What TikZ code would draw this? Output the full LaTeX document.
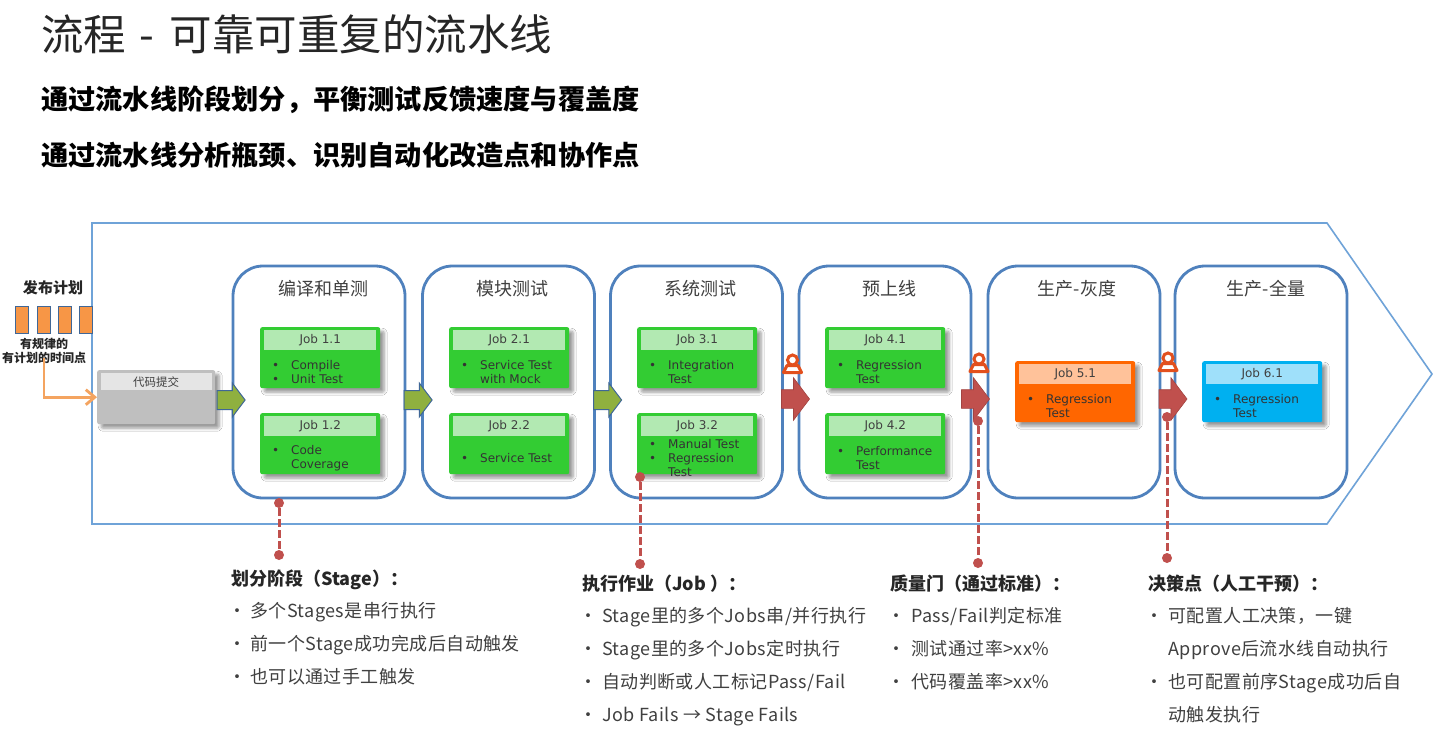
\documentclass[tikz,border=0pt]{standalone}
\usepackage{fontspec}
\setmainfont{Noto Sans CJK SC}
\newfontfamily\jobfont{DejaVu Sans}
\newfontfamily\notefont[LetterSpace=2.5]{Noto Sans CJK SC}
\usetikzlibrary{arrows.meta, positioning, shapes.arrows, shadows.blur}

\definecolor{StageBlue}{HTML}{4F81BD}
\definecolor{FlowBlue}{HTML}{6FA3D8}
\definecolor{JobGreen}{HTML}{33CC33}
\definecolor{JobGreenHead}{HTML}{B2E9B2}
\definecolor{JobOrange}{HTML}{FF6600}
\definecolor{JobOrangeHead}{HTML}{FFC29A}
\definecolor{JobCyan}{HTML}{00B0F0}
\definecolor{JobCyanHead}{HTML}{9FE0FA}
\definecolor{GateRed}{HTML}{C0504D}
\definecolor{PassGreen}{HTML}{8FB03F}
\definecolor{PlanOrange}{HTML}{F79646}
\definecolor{LineOrange}{HTML}{F4A460}
\definecolor{IconRed}{HTML}{E2501E}
\definecolor{TextGrey}{HTML}{404040}

\tikzset{
    stagebox/.style={draw=StageBlue, line width=2.8pt, rounded corners=30pt, minimum width=172pt, minimum height=232pt},
    stagetitle/.style={text=TextGrey, font=\fontsize{18}{22}\selectfont},
    jobbox/.style={rounded corners=2pt, minimum width=120pt, minimum height=61pt, anchor=north west,
        blur shadow={shadow xshift=4pt, shadow yshift=-4pt, shadow blur steps=6, shadow blur radius=3pt}},
    jobhead/.style={minimum width=112pt, minimum height=20pt, inner sep=0pt, text=TextGrey, font=\jobfont\fontsize{12}{14}\selectfont},
    jobtext/.style={anchor=west, align=left, inner sep=0pt, text=black!80, font=\jobfont\fontsize{12}{14}\selectfont},
    passarrow/.style={single arrow, single arrow tip angle=106, inner sep=9pt, single arrow head extend=7.5pt, minimum height=28pt, fill=PassGreen, draw=StageBlue!80!black, line width=1pt},
    gatearrow/.style={single arrow, single arrow tip angle=106, inner sep=9pt, single arrow head extend=12pt, minimum height=28pt, fill=GateRed, draw=GateRed!85!black, line width=.6pt},
    plandot/.style={circle, fill=GateRed, inner sep=0pt, minimum size=10pt},
    planline/.style={draw=GateRed, line width=3pt, dash pattern=on 8pt off 3pt},
    plantick/.style={draw=StageBlue!80!black, fill=PlanOrange, line width=1pt, minimum width=13pt, minimum height=27pt, inner sep=0pt},
    noteitems/.style={anchor=north west, align=left, inner sep=0pt, text=TextGrey, font=\notefont\fontsize{18}{33}\selectfont},
    notehead/.style={anchor=west, inner sep=0pt, text=black!85, font=\fontsize{18}{20}\selectfont\bfseries},
    person/.pic={
        \draw [IconRed, fill=white, line width=3pt, line join=round] (-9,8.5) -- (9,8.5) -- (5.5,1.5) -- (-5.5,1.5) -- cycle;
        \draw [IconRed, fill=white, line width=3pt] (0,-4) circle (5pt);
    }
}

% name, left, top, fill, head fill, title, items
\newcommand{\jobnode}[7]{
    \node [jobbox, fill=#4] (#1) at (#2,#3) {};
    \node [jobhead, fill=#5, below=3pt of #1.north] (#1head) {#6};
    \node [jobtext, right=12pt of #1.north west, yshift=-45pt] (#1text) {#7};
}
\newcommand{\jb}{\makebox[19pt][l]{•}}
\newcommand{\jn}{\makebox[19pt][l]{}}
\newcommand{\nb}[1]{\makebox[#1pt][l]{\hspace{-3pt}•}}
\newcommand{\nn}[1]{\makebox[#1pt][l]{}}

\begin{document}
\begin{tikzpicture}[x=1pt, y=-1pt]
    \useasboundingbox [fill=white] (0,0) rectangle (1439,755);

    \node [anchor=west, inner sep=0pt, text=black!85, font=\fontsize{42.5}{50}\selectfont] (pagetitle) at (41,34) {流程 \hspace{4pt}-\hspace{6pt} 可靠可重复的流水线};
    \node [anchor=west, inner sep=0pt, text=black, font=\fontsize{27.2}{32}\selectfont\bfseries] (subone) at (41,100) {通过流水线阶段划分，平衡测试反馈速度与覆盖度};
    \node [anchor=west, inner sep=0pt, text=black, font=\fontsize{27.2}{32}\selectfont\bfseries] (subtwo) at (41,155) {通过流水线分析瓶颈、识别自动化改造点和协作点};

    \draw [FlowBlue, line width=1.6pt] (92,223) -- (1327,223) -- (1432,374) -- (1327,524) -- (92,524) -- cycle;

    \node [inner sep=0pt, text=black!85, font=\fontsize{15}{18}\selectfont\bfseries] (plan) at (53,288) {发布计划};
    \node [plantick] (tickone) at (21.5,319.5) {};
    \node [plantick] (ticktwo) at (43.5,319.5) {};
    \node [plantick] (tickthree) at (64.5,319.5) {};
    \node [plantick] (tickfour) at (85.5,319.5) {};
    \node [inner sep=0pt, text=black!85, font=\fontsize{12}{14}\selectfont\bfseries] (rule) at (44,344) {有规律的};
    \node [inner sep=0pt, text=black!85, font=\fontsize{12}{14}\selectfont\bfseries] (timepoint) at (44,358) {有计划的时间点};

    \node [jobbox, fill=black!25, minimum width=118pt, minimum height=54pt] (commit) at (97,370) {};
    \node [jobhead, fill=black!10, minimum width=111pt, minimum height=17pt, below=3pt of commit.north, font=\fontsize{11.5}{14}\selectfont] (commithead) {代码提交};
    \draw [LineOrange, line width=2.8pt, -{Straight Barb[length=9pt, width=15pt]}] (timepoint.center) |- (commit.west);

    \node [stagebox] (build) at (319,382) {};
    \node [stagebox] (module) at (508.5,382) {};
    \node [stagebox] (system) at (696.5,382) {};
    \node [stagebox] (prerelease) at (885,382) {};
    \node [stagebox] (canary) at (1074,382) {};
    \node [stagebox] (fullrelease) at (1261,382) {};

    \node [stagetitle] (buildtitle) at (323,289) {编译和单测};
    \node [stagetitle] (moduletitle) at (512,289) {模块测试};
    \node [stagetitle] (systemtitle) at (700,289) {系统测试};
    \node [stagetitle] (prereleasetitle) at (889,289) {预上线};
    \node [stagetitle] (canarytitle) at (1077,289) {生产-灰度};
    \node [stagetitle] (fullreleasetitle) at (1266,289) {生产-全量};

    \jobnode{jobA}{260}{327}{JobGreen}{JobGreenHead}{Job 1.1}{\jb Compile\\\jb Unit Test}
    \jobnode{jobB}{260}{413}{JobGreen}{JobGreenHead}{Job 1.2}{\jb Code\\\jn Coverage}
    \jobnode{jobC}{449}{327}{JobGreen}{JobGreenHead}{Job 2.1}{\jb Service Test\\\jn with Mock}
    \jobnode{jobD}{449}{413}{JobGreen}{JobGreenHead}{Job 2.2}{\jb Service Test}
    \jobnode{jobE}{637}{327}{JobGreen}{JobGreenHead}{Job 3.1}{\jb Integration\\\jn Test}
    \jobnode{jobF}{637}{413}{JobGreen}{JobGreenHead}{Job 3.2}{\jb Manual Test\\\jb Regression\\\jn Test}
    \jobnode{jobG}{825}{327}{JobGreen}{JobGreenHead}{Job 4.1}{\jb Regression\\\jn Test}
    \jobnode{jobH}{825}{413}{JobGreen}{JobGreenHead}{Job 4.2}{\jb Performance\\\jn Test}
    \jobnode{jobI}{1015}{361}{JobOrange}{JobOrangeHead}{Job 5.1}{\jb Regression\\\jn Test}
    \jobnode{jobJ}{1202}{361}{JobCyan}{JobCyanHead}{Job 6.1}{\jb Regression\\\jn Test}

    \node [passarrow] (passA) at (227.5,400) {};
    \node [passarrow] (passB) at (414.5,400) {};
    \node [passarrow] (passC) at (604,400) {};
    \node [gatearrow] (gateA) at (792,399) {};
    \node [gatearrow] (gateB) at (972,399) {};
    \node [gatearrow] (gateC) at (1169.5,399) {};

    \pic at (792.5,364) {person};
    \pic at (979,363) {person};
    \pic at (1168,362) {person};

    \node [plandot] (stagetop) at (279,503) {};
    \node [plandot] (stageend) at (279,555) {};
    \node [plandot] (jobtop) at (640,477) {};
    \node [plandot] (jobend) at (640,564) {};
    \node [plandot] (gatetop) at (978,421) {};
    \node [plandot] (gateend) at (978,563) {};
    \node [plandot] (decidetop) at (1167,417) {};
    \node [plandot] (decideend) at (1167,558) {};
    \draw [planline] (stagetop) -- (stageend);
    \draw [planline] (jobtop) -- (jobend);
    \draw [planline] (gatetop) -- (gateend);
    \draw [planline] (decidetop) -- (decideend);

    \node [notehead] (stagehead) at (231,580) {划分阶段（Stage）：};
    \node [noteitems] (stagenote) at (231,602) {\nb{19}多个Stages是串行执行\\\nb{19}前一个Stage成功完成后自动触发\\\nb{19}也可以通过手工触发};

    \node [notehead] (jobhead) at (582,584) {执行作业（Job ）：};
    \node [noteitems] (jobnote) at (582,607) {\nb{20}Stage里的多个Jobs串/并行执行\\\nb{20}Stage里的多个Jobs定时执行\\\nb{20}自动判断或人工标记Pass/Fail\\\nb{20}Job Fails → Stage Fails};

    \node [notehead] (gatehead) at (890,584) {质量门（通过标准）：};
    \node [noteitems] (gatenote) at (890,607) {\nb{21}Pass/Fail判定标准\\\nb{21}测试通过率>xx\%\\\nb{21}代码覆盖率>xx\%};

    \node [notehead] (decidehead) at (1148,584) {决策点（人工干预）：};
    \node [noteitems] (decidenote) at (1148,607) {\nb{20}可配置人工决策，一键\\\nn{20}Approve后流水线自动执行\\\nb{20}也可配置前序Stage成功后自\\\nn{20}动触发执行};
\end{tikzpicture}
\end{document}
